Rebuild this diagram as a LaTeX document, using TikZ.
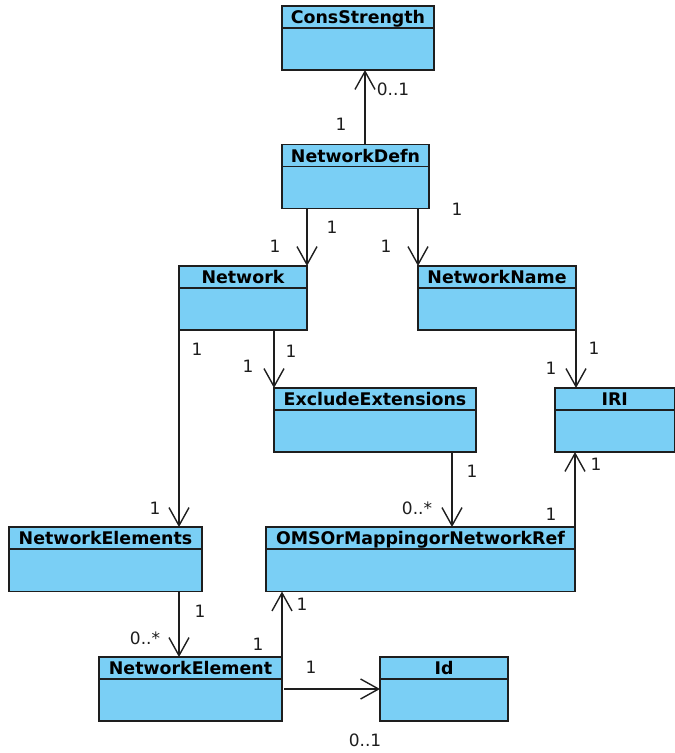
\documentclass[tikz,border=0pt]{standalone}
\usepackage{fontspec}
\setmainfont{DejaVu Sans}
\usetikzlibrary{arrows.meta}
\definecolor{clsfill}{RGB}{122,207,245}
\definecolor{ink}{RGB}{30,30,30}
\tikzset{
  cls/.style={draw=ink, line width=1.3pt, fill=clsfill, rectangle, inner sep=0pt, outer sep=0pt, anchor=north west},
  sep/.style={draw=ink, line width=1.4pt},
  hdr/.style={font=\fontsize{17.4}{20}\selectfont\bfseries, text=black, inner sep=0pt, anchor=base},
  mult/.style={font=\fontsize{17}{20}\selectfont, text=ink, inner sep=0pt, anchor=center},
  assoc/.style={draw=ink, line width=1.4pt, -{Straight Barb[length=18pt, width=20pt, line width=1.4pt]}}
}
\newcommand\umlclass[6]{%
  \node[cls, minimum width=#4pt, minimum height=#5pt] (#1) at (#2,#3) {};
  \draw[sep] ([yshift=-22pt]#1.north west) -- ([yshift=-22pt]#1.north east);
  \node[hdr] (#1-t) at ([yshift=-17.5pt]#1.north) {#6};}
\begin{document}
\begin{tikzpicture}[x=1pt,y=-1pt]
\useasboundingbox (0,0) rectangle (675,753);
\umlclass{cons}{282}{6}{152}{64}{ConsStrength}
\umlclass{netdefn}{282}{144.5}{147}{64}{NetworkDefn}
\umlclass{network}{179}{266}{128}{64}{Network}
\umlclass{netname}{418}{266}{158}{64}{NetworkName}
\umlclass{excl}{274}{388}{202}{64}{ExcludeExtensions}
\umlclass{iri}{555}{388}{119.5}{64}{IRI}
\umlclass{nelems}{9}{527}{193}{64.5}{NetworkElements}
\umlclass{omsor}{266}{527}{309}{64.5}{OMSOrMappingorNetworkRef}
\umlclass{nelem}{99}{657}{183}{64}{NetworkElement}
\umlclass{id}{380}{657}{128}{64}{Id}

\draw[assoc] ([xshift=9.5pt]netdefn.north) -- ([xshift=9.5pt]netdefn.north |- cons.south);
\draw[assoc] (netdefn.south -| network.north east) -- (network.north east);
\draw[assoc] (netdefn.south -| netname.north west) -- (netname.north west);
\draw[assoc] (network.south -| excl.north west) -- (excl.north west);
\draw[assoc] (network.south west) -- (network.south west |- nelems.north);
\draw[assoc] (netname.south east) -- (netname.south east |- iri.north);
\draw[assoc] ([xshift=77pt]excl.south) -- ([xshift=77pt]excl.south |- omsor.north);
\draw[assoc] (omsor.north east) -- (omsor.north east |- iri.south);
\draw[assoc] ([xshift=73.5pt]nelems.south) -- ([xshift=73.5pt]nelems.south |- nelem.north);
\draw[assoc] (nelem.north east) -- (nelem.north east |- omsor.south);
\draw[assoc] ([xshift=2pt]nelem.east) -- (id.west);

\node[mult] (m1) at (393,89) {0..1};
\node[mult] (m2) at (341,124) {1};
\node[mult] (m3) at (332,227) {1};
\node[mult] (m4) at (275,246) {1};
\node[mult] (m5) at (457,209) {1};
\node[mult] (m6) at (386,246) {1};
\node[mult] (m7) at (197,349) {1};
\node[mult] (m8) at (291,351) {1};
\node[mult] (m9) at (248,366) {1};
\node[mult] (m10) at (594,348) {1};
\node[mult] (m11) at (551,368) {1};
\node[mult] (m12) at (155,508) {1};
\node[mult] (m13) at (472,471) {1};
\node[mult] (m14) at (417,508) {0..*};
\node[mult] (m15) at (596,464) {1};
\node[mult] (m16) at (551,514) {1};
\node[mult] (m17) at (200,611) {1};
\node[mult] (m18) at (145,638) {0..*};
\node[mult] (m19) at (302,604) {1};
\node[mult] (m20) at (258,644) {1};
\node[mult] (m21) at (311,667) {1};
\node[mult] (m22) at (365,740) {0..1};
\end{tikzpicture}
\end{document}
